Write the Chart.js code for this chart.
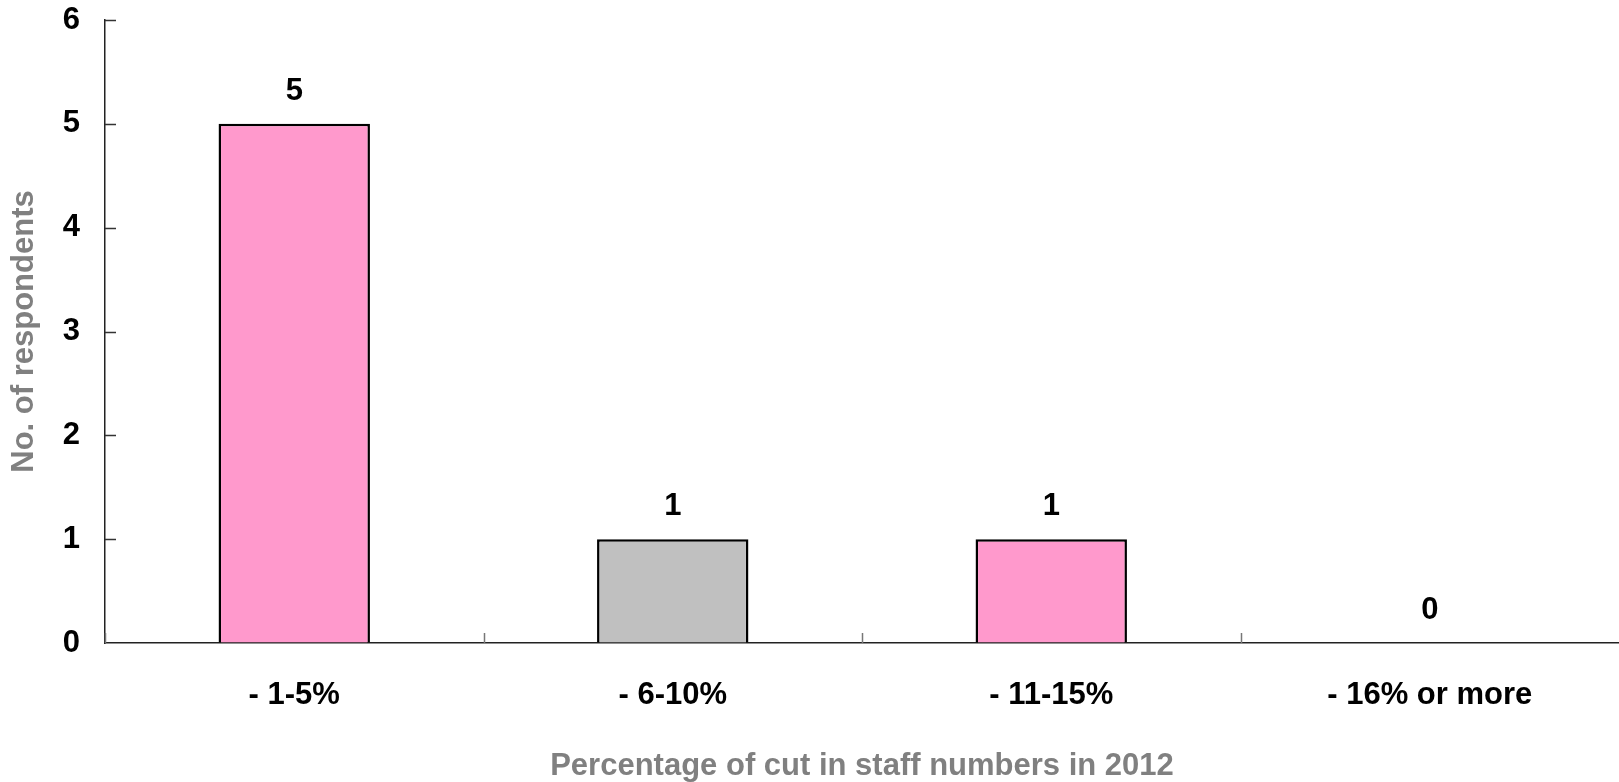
<!DOCTYPE html>
<html>
<head>
<meta charset="utf-8">
<title>Staff cuts 2012</title>
<script src="https://cdn.jsdelivr.net/npm/chart.js@4"></script>
<style>
  html, body { margin: 0; padding: 0; background: #fff; }
  #wrap { width: 1619px; height: 782px; position: relative; }
</style>
</head>
<body>
<div id="wrap"><canvas id="myChart"></canvas></div>
<script>
const categories = ["- 1-5%", "- 6-10%", "- 11-15%", "- 16% or more"];
const respondents = [5, 1, 1, 0];
const barColors = ["#FF99CC", "#C0C0C0", "#FF99CC", "#FF99CC"];
const yTicks = [0, 1, 2, 3, 4, 5, 6];

const FONT = "'Liberation Sans', Arial, sans-serif";

// value labels above the bars
const valueLabels = {
  id: "valueLabels",
  afterDatasetsDraw(chart) {
    const ctx = chart.ctx;
    const meta = chart.getDatasetMeta(0);
    ctx.save();
    ctx.font = "bold 31px " + FONT;
    ctx.fillStyle = "#000";
    ctx.textAlign = "center";
    ctx.textBaseline = "alphabetic";
    meta.data.forEach((bar, i) => {
      ctx.fillText(String(respondents[i]), bar.x, bar.y - 24);
    });
    ctx.restore();
  }
};

// small tick marks pointing into the plot area
const innerTicks = {
  id: "innerTicks",
  afterDraw(chart) {
    const ctx = chart.ctx;
    const x = chart.scales.x;
    const y = chart.scales.y;
    const area = chart.chartArea;
    ctx.save();
    ctx.lineWidth = 1.5;
    ctx.strokeStyle = "#333";
    ctx.beginPath();
    yTicks.forEach(v => {
      if (v === 0) return;
      const py = Math.round(y.getPixelForValue(v)) + 0.5;
      ctx.moveTo(area.left, py);
      ctx.lineTo(area.left + 11, py);
    });
    ctx.stroke();
    ctx.strokeStyle = "#777";
    ctx.beginPath();
    for (let i = 0; i < categories.length; i++) {
      const px = Math.round(x.getPixelForValue(i - 0.5)) + 0.5;
      ctx.moveTo(px, area.bottom);
      ctx.lineTo(px, area.bottom - 10);
    }
    ctx.stroke();
    ctx.restore();
  }
};

const data = {
  labels: categories,
  datasets: [
    {
      label: "No. of respondents",
      data: respondents,
      backgroundColor: barColors,
      borderColor: "#000",
      borderWidth: 2.5,
      borderSkipped: "start",
      barPercentage: 0.4,
      categoryPercentage: 1.0
    }
  ]
};

const config = {
  type: "bar",
  data: data,
  options: {
    responsive: true,
    maintainAspectRatio: false,
    animation: false,
    layout: { padding: { top: 20, right: 0, left: 0, bottom: 0 } },
    plugins: {
      legend: { display: false },
      tooltip: { enabled: false }
    },
    scales: {
      x: {
        offset: true,
        grid: { display: true, drawOnChartArea: false, drawTicks: false },
        border: { display: true, color: "#222", width: 1.5 },
        ticks: {
          color: "#000",
          padding: 34,
          font: { family: FONT, size: 31, weight: "bold" }
        },
        title: {
          display: true,
          text: "Percentage of cut in staff numbers in 2012",
          color: "#808080",
          padding: { top: 0, bottom: 0 },
          font: { family: FONT, size: 31, weight: "bold", lineHeight: 1 }
        },
        afterFit(scale) {
          scale.height = 139;
          scale.paddingLeft = 0;
          scale.paddingRight = 0;
        }
      },
      y: {
        min: 0,
        max: 6,
        grid: { display: true, drawOnChartArea: false, drawTicks: false },
        border: { display: true, color: "#222", width: 1.5 },
        ticks: {
          stepSize: 1,
          color: "#000",
          padding: 25,
          font: { family: FONT, size: 31, weight: "bold" }
        },
        title: {
          display: true,
          text: "No. of respondents",
          color: "#808080",
          padding: { top: 9, bottom: 0 },
          font: { family: FONT, size: 31, weight: "bold", lineHeight: 1 }
        },
        afterFit(scale) {
          scale.width = 105;
          scale.paddingTop = 0;
          scale.paddingBottom = 0;
        }
      }
    }
  },
  plugins: [valueLabels, innerTicks]
};

let myChart = new Chart(document.getElementById("myChart"), config);
</script>
</body>
</html>
